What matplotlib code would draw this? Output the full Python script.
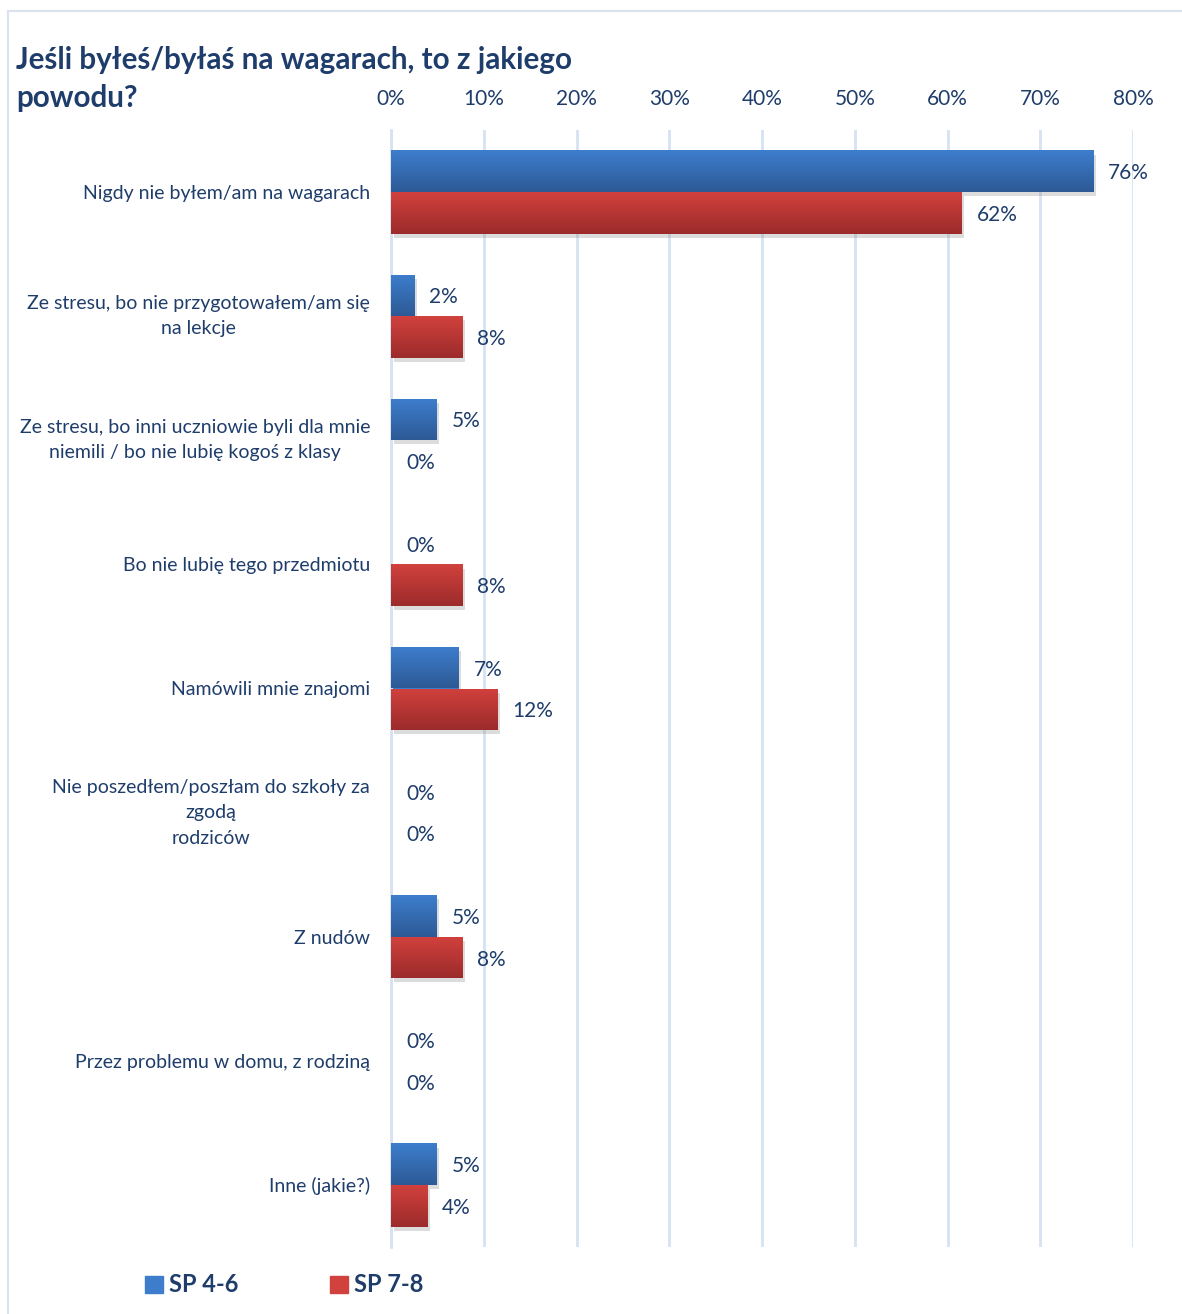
import numpy as np
import matplotlib.pyplot as plt
import matplotlib.patheffects as pe
from matplotlib.colors import LinearSegmentedColormap
from matplotlib.patches import Rectangle

plt.rcParams['font.family'] = ['Lato', 'DejaVu Sans']

# data (percent)
categories = [
    'Nigdy nie byłem/am na wagarach',
    'Ze stresu, bo nie przygotowałem/am się\nna lekcje',
    'Ze stresu, bo inni uczniowie byli dla mnie\nniemili / bo nie lubię kogoś z klasy',
    'Bo nie lubię tego przedmiotu',
    'Namówili mnie znajomi',
    'Nie poszedłem/poszłam do szkoły za\nzgodą\nrodziców',
    'Z nudów',
    'Przez problemu w domu, z rodziną',
    'Inne (jakie?)',
]
sp46 = [75.7, 2.5, 4.9, 0.0, 7.3, 0.0, 4.9, 0.0, 4.9]
sp78 = [61.5, 7.7, 0.0, 7.7, 11.5, 0.0, 7.7, 0.0, 3.9]
series_names = ['SP 4-6', 'SP 7-8']
xticks = [0, 10, 20, 30, 40, 50, 60, 70, 80]
title_lines = ['Jeśli byłeś/byłaś na wagarach, to z jakiego', 'powodu?']

navy = '#1F3D6B'
grid_col = '#D5E2F1'
blue_top, blue_bot = '#3D7DCC', '#2D5A96'
red_top, red_bot = '#D1413D', '#9C2B2B'

fig = plt.figure(figsize=(11.82, 13.14), dpi=100)
W, H = 1182, 1314
ax = fig.add_axes([391 / W, 1 - 1247 / H, (1133 - 391) / W, (1247 - 130) / H])

y = np.arange(len(categories))
h = 0.335
shadow = [pe.SimplePatchShadow(offset=(2, -3), shadow_rgbFace='#777777', alpha=0.25), pe.Normal()]
b1 = ax.barh(y - h / 2, sp46, height=h, color=blue_top, zorder=2, path_effects=shadow)
b2 = ax.barh(y + h / 2, sp78, height=h, color=red_top, zorder=2, path_effects=shadow)

# vertical gradient on each bar
grad = np.linspace(0, 1, 64).reshape(-1, 1)
for bars, c0, c1 in [(b1, blue_top, blue_bot), (b2, red_top, red_bot)]:
    cm = LinearSegmentedColormap.from_list('g', [c0, c1])
    for bar in bars:
        x0 = bar.get_x()
        x1 = x0 + bar.get_width()
        if x1 <= x0:
            continue
        yt = bar.get_y()
        yb = yt + bar.get_height()
        im = ax.imshow(grad, cmap=cm, aspect='auto', origin='upper',
                       extent=(x0, x1, yb, yt), zorder=3)
        im.set_clip_path(bar)

for bars, vals in [(b1, sp46), (b2, sp78)]:
    for bar, v in zip(bars, vals):
        ax.annotate(f'{round(v):.0f}%', (v, bar.get_y() + bar.get_height() / 2),
                    xytext=(15, -2), textcoords='offset pixels',
                    va='center', ha='left', fontsize=15, color=navy, zorder=5)

ax.set_xlim(0, 80)
ax.set_ylim(len(categories) - 0.5, -0.5)
ax.set_xticks(xticks)
ax.set_xticklabels([f'{t}%' for t in xticks])
ax.xaxis.tick_top()
ax.tick_params(axis='x', length=0, pad=15, labelsize=15, labelcolor=navy)
ax.set_yticks(y)
ax.set_yticklabels(categories, multialignment='center', linespacing=1.6)
for lbl in ax.get_yticklabels():
    if '\n' in lbl.get_text():
        lbl.set_va('center')
ax.tick_params(axis='y', length=0, pad=15, labelsize=14, labelcolor=navy)
ax.grid(axis='x', color=grid_col, linewidth=2)
ax.set_axisbelow(True)
for s in ['top', 'right', 'bottom']:
    ax.spines[s].set_visible(False)
ax.spines['left'].set_color(grid_col)
ax.spines['left'].set_linewidth(2)

fig.text(16 / W, 1 - 60 / H, title_lines[0], fontsize=21.3, fontweight='bold',
         color=navy, va='center', ha='left')
fig.text(16 / W, 1 - 98 / H, title_lines[1], fontsize=21.3, fontweight='bold',
         color=navy, va='center', ha='left')

leg = fig.legend([Rectangle((0, 0), 1, 1, color=blue_top), Rectangle((0, 0), 1, 1, color=red_top)],
                 series_names, loc='center left', bbox_to_anchor=(124 / W, 1 - 1285 / H),
                 ncol=2, frameon=False, handlelength=0.75, handleheight=0.75,
                 handletextpad=0.25, columnspacing=3.9, prop={'size': 17, 'weight': 'bold'})
for t in leg.get_texts():
    t.set_color(navy)

fig.add_artist(Rectangle((8 / W, -0.01), 1.1, 1 - 11 / H + 0.01, fill=False,
                         edgecolor='#D9E2EE', linewidth=1.5, transform=fig.transFigure))

fig.savefig('out.png', dpi=100)
